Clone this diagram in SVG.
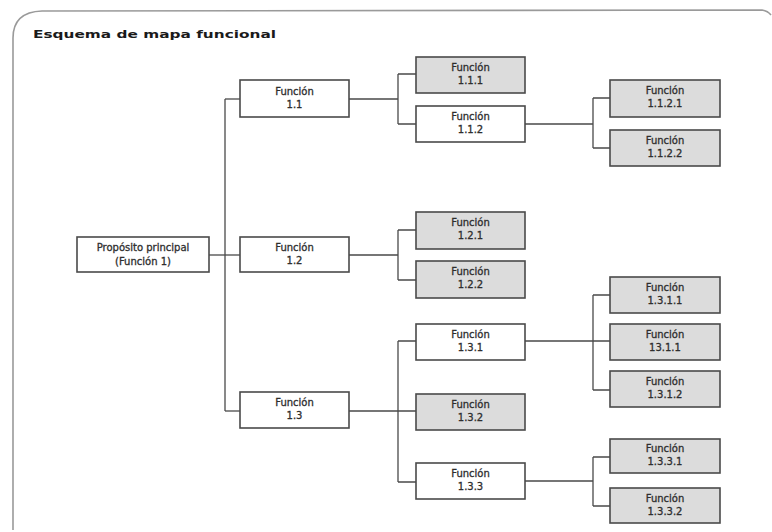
<svg xmlns="http://www.w3.org/2000/svg" width="772" height="532" viewBox="0 0 772 532">
  <style>
    .frame { fill: none; stroke: #9a9a9a; stroke-width: 1.6; }
    .title { font-family: "DejaVu Sans", "Liberation Sans", sans-serif; font-size: 11px; font-weight: bold; fill: #1a1a1a; }
    .box { stroke: #4a4a4a; stroke-width: 1.6; }
    .white { fill: #ffffff; }
    .gray { fill: #dcdcdc; }
    .lbl { font-family: "DejaVu Sans", "Liberation Sans", sans-serif; font-size: 10px; fill: #2e2e2e; stroke: #2e2e2e; stroke-width: 0.3; text-anchor: middle; }
    .links path { fill: none; stroke: #4a4a4a; stroke-width: 1.3; }
  </style>

  <rect width="772" height="532" fill="#ffffff"/>

  <!-- outer frame with rounded top-left corner -->
  <path class="frame" d="M13,530 L13,38 Q13,12 42,11 L762,10 Q768,11 771,15"/>
  <text class="title" x="33" y="38" textLength="243" lengthAdjust="spacingAndGlyphs">Esquema de mapa funcional</text>

  <!-- connectors -->
  <g class="links">
    <path d="M209,255 H240"/>
    <path d="M225,99 V411"/>
    <path d="M225,99 H240"/>
    <path d="M225,411 H240"/>
    <!-- 1.1 branch -->
    <path d="M349,99 H398 M398,74 V124 M398,74 H416 M398,124 H416"/>
    <path d="M525,124 H593 M593,98 V148 M593,98 H610 M593,148 H610"/>
    <!-- 1.2 branch -->
    <path d="M349,255 H398 M398,230 V280 M398,230 H416 M398,280 H416"/>
    <!-- 1.3 branch -->
    <path d="M349,411 H416 M398,341 V482 M398,341 H416 M398,482 H416"/>
    <path d="M525,341 H610 M593,295 V390 M593,295 H610 M593,390 H610"/>
    <path d="M525,481 H593 M593,457 V506 M593,457 H610 M593,506 H610"/>
  </g>

  <!-- root -->
  <g id="root">
    <rect class="box white" x="77" y="237" width="132" height="35"/>
    <text class="lbl" x="143" y="251">Propósito principal</text>
    <text class="lbl" x="143" y="265">(Función 1)</text>
  </g>

  <!-- level 1 -->
  <g id="f1-1">
    <rect class="box white" x="240" y="80" width="109" height="37"/>
    <text class="lbl" x="294.5" y="95">Función</text>
    <text class="lbl" x="294.5" y="108">1.1</text>
  </g>
  <g id="f1-2">
    <rect class="box white" x="240" y="237" width="109" height="35"/>
    <text class="lbl" x="294.5" y="251">Función</text>
    <text class="lbl" x="294.5" y="264">1.2</text>
  </g>
  <g id="f1-3">
    <rect class="box white" x="240" y="392" width="109" height="36"/>
    <text class="lbl" x="294.5" y="406">Función</text>
    <text class="lbl" x="294.5" y="419">1.3</text>
  </g>

  <!-- level 2 -->
  <g id="f1-1-1">
    <rect class="box gray" x="416" y="57" width="109" height="36"/>
    <text class="lbl" x="470.5" y="71">Función</text>
    <text class="lbl" x="470.5" y="84">1.1.1</text>
  </g>
  <g id="f1-1-2">
    <rect class="box white" x="416" y="106" width="109" height="36"/>
    <text class="lbl" x="470.5" y="120">Función</text>
    <text class="lbl" x="470.5" y="133">1.1.2</text>
  </g>
  <g id="f1-2-1">
    <rect class="box gray" x="416" y="212" width="109" height="37"/>
    <text class="lbl" x="470.5" y="226">Función</text>
    <text class="lbl" x="470.5" y="239">1.2.1</text>
  </g>
  <g id="f1-2-2">
    <rect class="box gray" x="416" y="261" width="109" height="37"/>
    <text class="lbl" x="470.5" y="275">Función</text>
    <text class="lbl" x="470.5" y="288">1.2.2</text>
  </g>
  <g id="f1-3-1">
    <rect class="box white" x="416" y="324" width="109" height="36"/>
    <text class="lbl" x="470.5" y="338">Función</text>
    <text class="lbl" x="470.5" y="351">1.3.1</text>
  </g>
  <g id="f1-3-2">
    <rect class="box gray" x="416" y="394" width="109" height="36"/>
    <text class="lbl" x="470.5" y="408">Función</text>
    <text class="lbl" x="470.5" y="421">1.3.2</text>
  </g>
  <g id="f1-3-3">
    <rect class="box white" x="416" y="463" width="109" height="36"/>
    <text class="lbl" x="470.5" y="477">Función</text>
    <text class="lbl" x="470.5" y="490">1.3.3</text>
  </g>

  <!-- level 3 -->
  <g id="f1-1-2-1">
    <rect class="box gray" x="610" y="80" width="110" height="37"/>
    <text class="lbl" x="665" y="94">Función</text>
    <text class="lbl" x="665" y="107">1.1.2.1</text>
  </g>
  <g id="f1-1-2-2">
    <rect class="box gray" x="610" y="130" width="110" height="36"/>
    <text class="lbl" x="665" y="144">Función</text>
    <text class="lbl" x="665" y="157">1.1.2.2</text>
  </g>
  <g id="f1-3-1-1">
    <rect class="box gray" x="610" y="277" width="110" height="36"/>
    <text class="lbl" x="665" y="291">Función</text>
    <text class="lbl" x="665" y="304">1.3.1.1</text>
  </g>
  <g id="f13-1-1">
    <rect class="box gray" x="610" y="324" width="110" height="36"/>
    <text class="lbl" x="665" y="338">Función</text>
    <text class="lbl" x="665" y="351">13.1.1</text>
  </g>
  <g id="f1-3-1-2">
    <rect class="box gray" x="610" y="371" width="110" height="36"/>
    <text class="lbl" x="665" y="385">Función</text>
    <text class="lbl" x="665" y="398">1.3.1.2</text>
  </g>
  <g id="f1-3-3-1">
    <rect class="box gray" x="610" y="439" width="110" height="34"/>
    <text class="lbl" x="665" y="452">Función</text>
    <text class="lbl" x="665" y="465">1.3.3.1</text>
  </g>
  <g id="f1-3-3-2">
    <rect class="box gray" x="610" y="488" width="110" height="35"/>
    <text class="lbl" x="665" y="502">Función</text>
    <text class="lbl" x="665" y="515">1.3.3.2</text>
  </g>
</svg>
